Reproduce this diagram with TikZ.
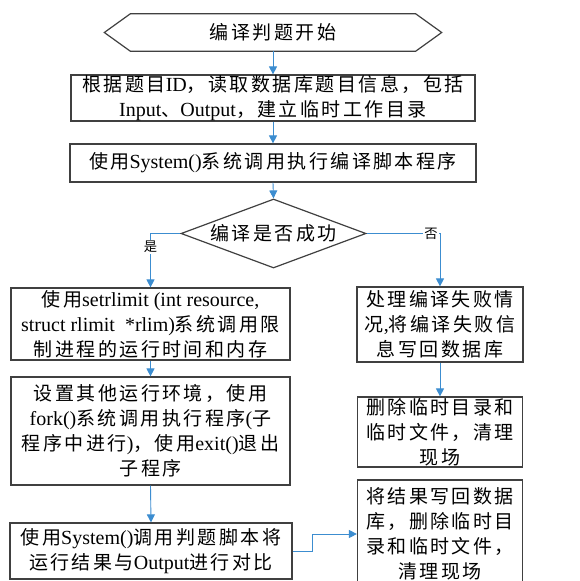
\documentclass[tikz,border=0pt]{standalone}
\usepackage{fontspec}
\setmainfont{Liberation Serif}
\newfontfamily\cjk[LetterSpace=13,Scale=0.95]{Noto Sans CJK SC}
\newcommand\cj[1]{{\cjk #1}}
\usetikzlibrary{shapes.geometric,arrows.meta}
\definecolor{arrowblue}{HTML}{3C8DD0}
\definecolor{boxline}{HTML}{404040}
\tikzset{
  flowbox/.style={draw=boxline, line width=1.2pt, rectangle, inner sep=0pt, align=center,
    font=\fontsize{20}{25}\selectfont},
  flowarrow/.style={draw=arrowblue, line width=0.9pt, -{Triangle[length=8pt,width=8pt]}},
  branchlabel/.style={fill=white, inner sep=1pt, font=\fontsize{14}{16}\selectfont},
}
\begin{document}
\begin{tikzpicture}[x=1pt,y=-1pt]
\useasboundingbox (0,0) rectangle (579,581);
\fill[white] (0,0) rectangle (579,581);

% start terminal
\node[inner sep=0pt, minimum width=337pt, minimum height=37pt, font=\fontsize{20}{25}\selectfont] (start) at (273,32.5) {\cj{编译判题开始}};
\draw[draw=boxline, line width=1.2pt] (start.west) -- ([xshift=26pt]start.north west) -- ([xshift=-26pt]start.north east) -- (start.east) -- ([xshift=-26pt]start.south east) -- ([xshift=26pt]start.south west) -- cycle;

\node[flowbox, minimum width=404pt, minimum height=46pt] (b2) at (273,98)
  {\cj{根据题目}ID\cj{，读取数据库题目信息，包括}\\Input\cj{、}Output\cj{，建立临时工作目录}};
\node[flowbox, minimum width=406pt, minimum height=38pt] (b3) at (273,163)
  {\cj{使用}System()\cj{系统调用执行编译脚本程序}};
\node[draw=boxline, line width=1.2pt, diamond, aspect=2.68, inner sep=0pt, minimum width=185pt, minimum height=69pt, font=\fontsize{20}{25}\selectfont] (d) at (273.5,233.5)
  {\cj{编译是否成功}};

\node[flowbox, minimum width=279pt, minimum height=72pt] (b4) at (150.5,324)
  {\cj{使用}setrlimit (int resource,\\struct rlimit \ *rlim)\cj{系统调用限}\\\cj{制进程的运行时间和内存}};
\node[flowbox, minimum width=166pt, minimum height=75pt] (b5) at (440,324.5)
  {\cj{处理编译失败情}\\\cj{况}{,}\cj{将编译失败信}\\\cj{息写回数据库}};
\node[flowbox, minimum width=279pt, minimum height=108pt] (b6) at (150.5,431)
  {\cj{设置其他运行环境，使用}\\fork()\cj{系统调用执行程序}(\cj{子}\\\cj{程序中进行})\cj{，使用}exit()\cj{退出}\\\cj{子程序}};
\node[flowbox, minimum width=165pt, minimum height=70pt] (b7) at (440,432)
  {\cj{删除临时目录和}\\\cj{临时文件，清理}\\\cj{现场}};
\node[flowbox, minimum width=282pt, minimum height=56pt] (b8) at (151,551)
  {\cj{使用}System()\cj{调用判题脚本将}\\\cj{运行结果与}Output\cj{进行对比}};
\node[flowbox, minimum width=165pt, minimum height=108pt] (b9) at (440,534)
  {\cj{将结果写回数据}\\\cj{库，删除临时目}\\\cj{录和临时文件，}\\\cj{清理现场}};

\coordinate (bend) at (312,0);

\draw[flowarrow] (start.south) -- (b2.north);
\draw[flowarrow] (b2.south) -- (b3.north);
\draw[flowarrow] (b3.south) -- (d.north);
\draw[flowarrow] (d.west) -| (b4.north);
\draw[flowarrow] (d.east) -| (b5.north);
\draw[flowarrow] (b4.south) -- (b6.north);
\draw[flowarrow] (b6.south) -- (b8.north);
\draw[flowarrow] (b5.south) -- (b7.north);
\draw[flowarrow] (b8.east) -- (b8.east -| bend) |- (b9.west);

\node[branchlabel] (yes) at (150.5,247) {\cj{是}};
\node[branchlabel] (no) at (431,233.5) {\cj{否}};
\end{tikzpicture}
\end{document}
